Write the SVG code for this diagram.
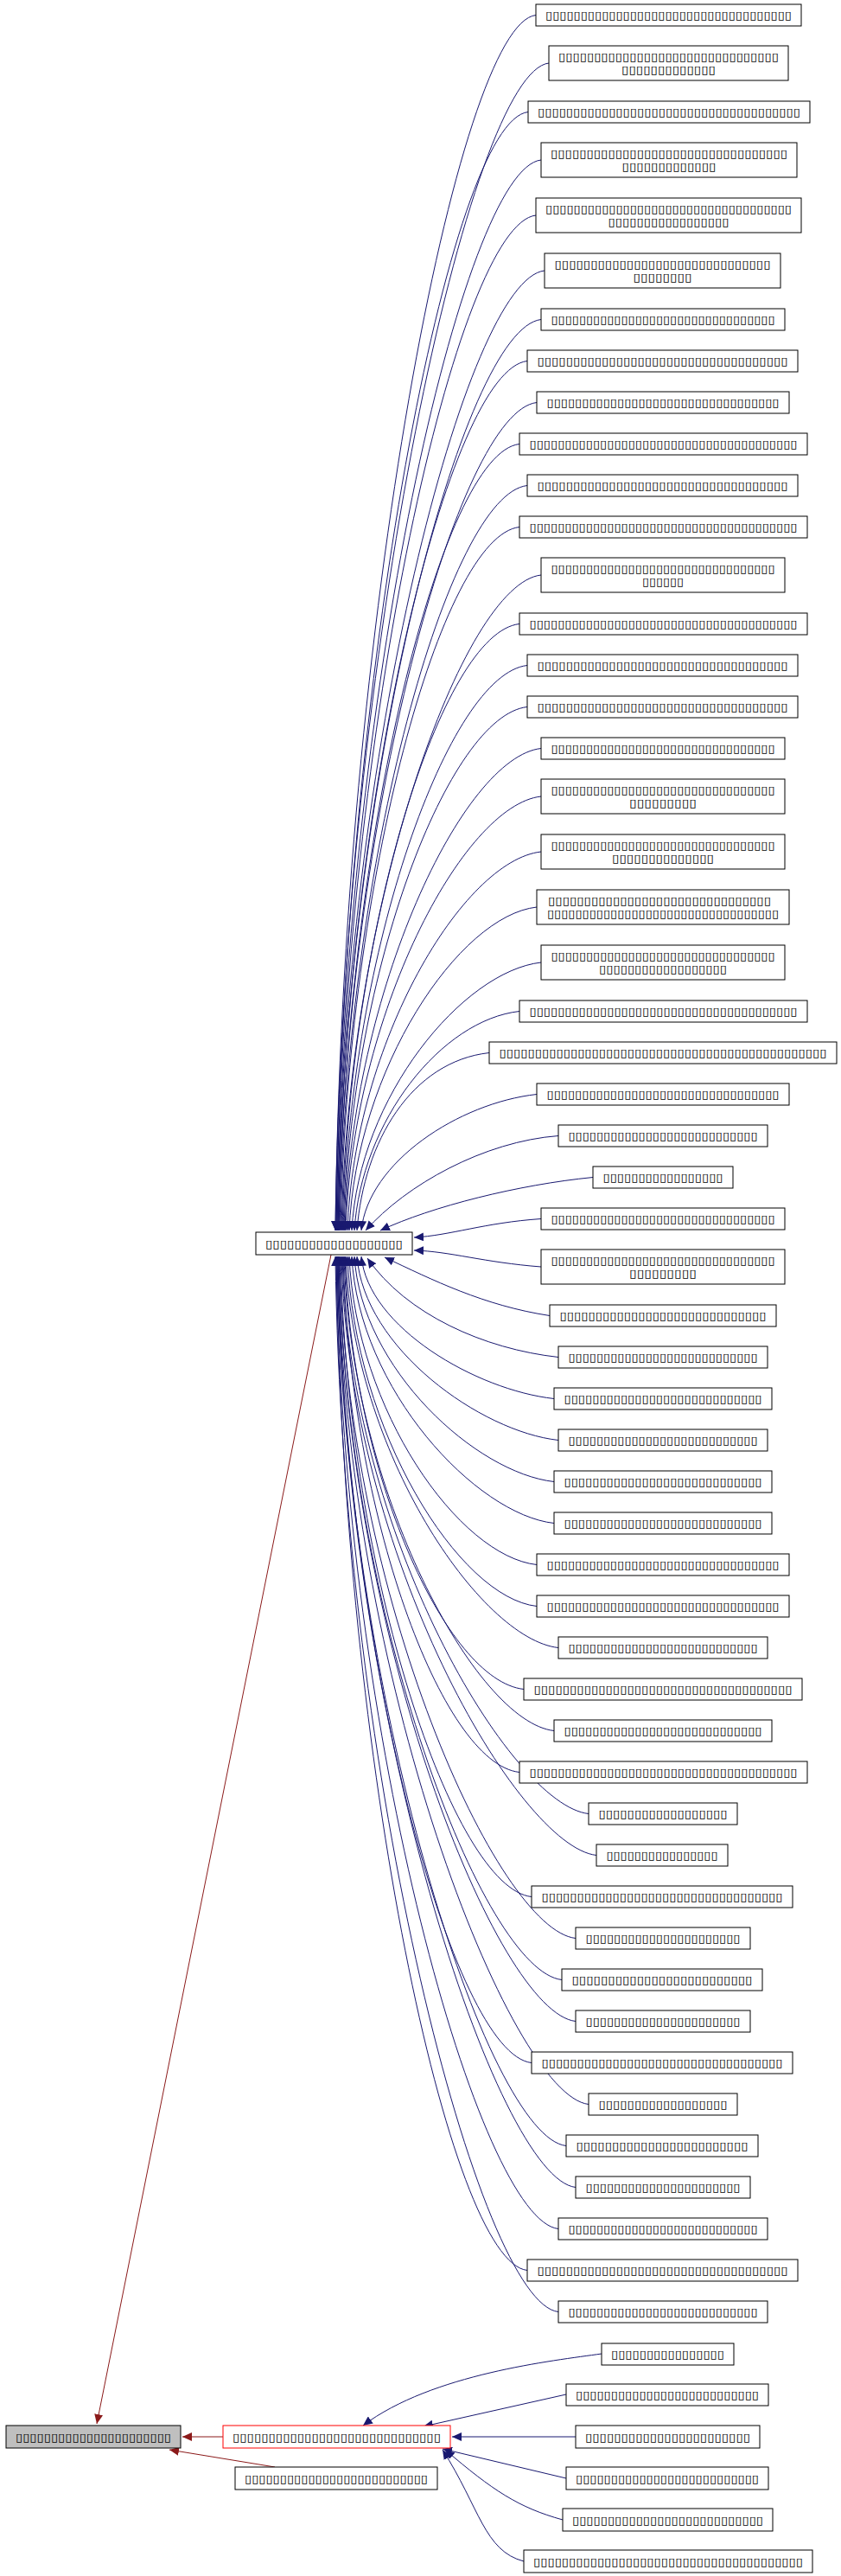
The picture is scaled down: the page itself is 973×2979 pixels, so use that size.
<svg xmlns="http://www.w3.org/2000/svg" width="973" height="2979" viewBox="0 0 973 2979">
<style>
.n rect{fill:#fff;stroke:#000;stroke-width:1}
text{font-family:"DejaVu Sans",sans-serif;font-size:13px;fill:#000;text-anchor:middle}
.e{fill:none;stroke:#191970;stroke-width:1;marker-end:url(#ab)}
.r{fill:none;stroke:#8b1a1a;stroke-width:1;marker-end:url(#ar)}
</style>
<defs>
<marker id="ab" markerUnits="userSpaceOnUse" markerWidth="12" markerHeight="10" refX="11" refY="5" orient="auto"><path d="M0,0 L11,5 L0,10 Z" fill="#191970"/></marker>
<marker id="ar" markerUnits="userSpaceOnUse" markerWidth="12" markerHeight="10" refX="11" refY="5" orient="auto"><path d="M0,0 L11,5 L0,10 Z" fill="#8b1a1a"/></marker>
</defs>
<rect width="973" height="2979" fill="#fff"/>
<g id="connectors">
<path class="e" d="M620,17.5 C530,27.5 396,720 388,1423"/>
<path class="e" d="M635,73 C545,83 396,748 388,1423"/>
<path class="e" d="M611,129.5 C521,139.5 397,776 389,1423"/>
<path class="e" d="M626,185 C536,195 397,804 389,1423"/>
<path class="e" d="M620,249 C530,259 398,836 390,1423"/>
<path class="e" d="M630,313 C540,323 398,868 390,1423"/>
<path class="e" d="M626,369.5 C536,379.5 399,896 391,1423"/>
<path class="e" d="M610,417.5 C520,427.5 399,920 391,1423"/>
<path class="e" d="M621,465.5 C531,475.5 400,944 392,1423"/>
<path class="e" d="M601,513.5 C511,523.5 400,968 392,1423"/>
<path class="e" d="M610,561.5 C520,571.5 401,992 393,1423"/>
<path class="e" d="M601,609.5 C511,619.5 402,1016 394,1423"/>
<path class="e" d="M626,665 C536,675 403,1044 395,1423"/>
<path class="e" d="M601,721.5 C511,731.5 404,1072 396,1423"/>
<path class="e" d="M610,769.5 C520,779.5 405,1096 397,1423"/>
<path class="e" d="M610,817.5 C520,827.5 406,1120 398,1423"/>
<path class="e" d="M626,865.5 C536,875.5 407,1144 399,1423"/>
<path class="e" d="M626,921 C536,931 408,1172 400,1423"/>
<path class="e" d="M626,985 C536,995 410,1204 402,1423"/>
<path class="e" d="M621,1049 C531,1059 412,1236 404,1423"/>
<path class="e" d="M626,1113 C536,1123 415,1268 407,1423"/>
<path class="e" d="M601,1169.5 C511,1179.5 418,1296 410,1423"/>
<path class="e" d="M566,1217.5 C476,1227.5 421,1320 413,1423"/>
<path class="e" d="M621,1265.5 C531,1275.5 426,1344 418,1423"/>
<path class="e" d="M646,1313.5 C560,1320 470,1370 423,1423"/>
<path class="e" d="M686,1361.5 C600,1370 500,1395 440,1423"/>
<path class="e" d="M626,1409.5 C560,1414 520,1429 479,1431"/>
<path class="e" d="M626,1465 C560,1460 520,1447 479,1446"/>
<path class="e" d="M636,1521.5 C560,1510 500,1480 445,1454"/>
<path class="e" d="M646,1569.5 C560,1560 470,1520 425,1455"/>
<path class="e" d="M641,1617.5 C551,1607.5 426,1535 418,1453"/>
<path class="e" d="M646,1665.5 C556,1655.5 421,1559 413,1453"/>
<path class="e" d="M641,1713.5 C551,1703.5 418,1583 410,1453"/>
<path class="e" d="M641,1761.5 C551,1751.5 415,1607 407,1453"/>
<path class="e" d="M621,1809.5 C531,1799.5 412,1631 404,1453"/>
<path class="e" d="M621,1857.5 C531,1847.5 410,1655 402,1453"/>
<path class="e" d="M646,1905.5 C556,1895.5 408,1679 400,1453"/>
<path class="e" d="M606,1953.5 C516,1943.5 407,1703 399,1453"/>
<path class="e" d="M641,2001.5 C551,1991.5 406,1727 398,1453"/>
<path class="e" d="M601,2049.5 C511,2039.5 405,1751 397,1453"/>
<path class="e" d="M681,2097.5 C591,2087.5 404,1775 396,1453"/>
<path class="e" d="M690,2145.5 C600,2135.5 403,1799 395,1453"/>
<path class="e" d="M615,2193.5 C525,2183.5 402,1823 394,1453"/>
<path class="e" d="M666,2241.5 C576,2231.5 401,1847 393,1453"/>
<path class="e" d="M650,2289.5 C560,2279.5 400,1871 392,1453"/>
<path class="e" d="M666,2337.5 C576,2327.5 400,1895 392,1453"/>
<path class="e" d="M615,2385.5 C525,2375.5 399,1919 391,1453"/>
<path class="e" d="M681,2433.5 C591,2423.5 399,1943 391,1453"/>
<path class="e" d="M655,2481.5 C565,2471.5 398,1967 390,1453"/>
<path class="e" d="M666,2529.5 C576,2519.5 398,1991 390,1453"/>
<path class="e" d="M646,2577.5 C556,2567.5 397,2015 389,1453"/>
<path class="e" d="M610,2625.5 C520,2615.5 397,2039 389,1453"/>
<path class="e" d="M646,2673.5 C556,2663.5 396,2063 388,1453"/>
<path class="e" d="M696,2722 C640,2730 500,2745 420,2805"/>
<path class="e" d="M655,2769 L490,2806"/>
<path class="e" d="M666,2818 L523,2818"/>
<path class="e" d="M655,2866 L512,2832"/>
<path class="e" d="M651,2914 C600,2900 570,2880 515,2833"/>
<path class="e" d="M606,2962 C560,2950 555,2900 512,2833"/>
<path class="r" d="M258,2818 L211,2818"/>
<path class="r" d="M318,2853 L196,2833"/>
<path class="r" d="M383,1451 L112,2803"/>
</g>
<g id="n1" class="n"><rect x="620" y="5" width="307" height="25"/><text x="773.5" y="22" textLength="285" lengthAdjust="spacingAndGlyphs">▯▯▯▯▯▯▯▯▯▯▯▯▯▯▯▯▯▯▯▯▯▯▯▯▯▯▯▯▯▯▯▯▯▯▯</text></g>
<g id="n2" class="n"><rect x="635" y="53" width="277" height="40"/><text x="773.5" y="70" textLength="255" lengthAdjust="spacingAndGlyphs">▯▯▯▯▯▯▯▯▯▯▯▯▯▯▯▯▯▯▯▯▯▯▯▯▯▯▯▯▯▯▯</text><text x="773.5" y="85" textLength="109" lengthAdjust="spacingAndGlyphs">▯▯▯▯▯▯▯▯▯▯▯▯▯</text></g>
<g id="n3" class="n"><rect x="611" y="117" width="326" height="25"/><text x="774" y="134" textLength="304" lengthAdjust="spacingAndGlyphs">▯▯▯▯▯▯▯▯▯▯▯▯▯▯▯▯▯▯▯▯▯▯▯▯▯▯▯▯▯▯▯▯▯▯▯▯▯</text></g>
<g id="n4" class="n"><rect x="626" y="165" width="296" height="40"/><text x="774" y="182" textLength="274" lengthAdjust="spacingAndGlyphs">▯▯▯▯▯▯▯▯▯▯▯▯▯▯▯▯▯▯▯▯▯▯▯▯▯▯▯▯▯▯▯▯▯</text><text x="774" y="197" textLength="109" lengthAdjust="spacingAndGlyphs">▯▯▯▯▯▯▯▯▯▯▯▯▯</text></g>
<g id="n5" class="n"><rect x="620" y="229" width="307" height="40"/><text x="773.5" y="246" textLength="285" lengthAdjust="spacingAndGlyphs">▯▯▯▯▯▯▯▯▯▯▯▯▯▯▯▯▯▯▯▯▯▯▯▯▯▯▯▯▯▯▯▯▯▯▯</text><text x="773.5" y="261" textLength="140" lengthAdjust="spacingAndGlyphs">▯▯▯▯▯▯▯▯▯▯▯▯▯▯▯▯▯</text></g>
<g id="n6" class="n"><rect x="630" y="293" width="273" height="40"/><text x="766.5" y="310" textLength="250" lengthAdjust="spacingAndGlyphs">▯▯▯▯▯▯▯▯▯▯▯▯▯▯▯▯▯▯▯▯▯▯▯▯▯▯▯▯▯▯</text><text x="766.5" y="325" textLength="68" lengthAdjust="spacingAndGlyphs">▯▯▯▯▯▯▯▯</text></g>
<g id="n7" class="n"><rect x="626" y="357" width="282" height="25"/><text x="767" y="374" textLength="259" lengthAdjust="spacingAndGlyphs">▯▯▯▯▯▯▯▯▯▯▯▯▯▯▯▯▯▯▯▯▯▯▯▯▯▯▯▯▯▯▯▯</text></g>
<g id="n8" class="n"><rect x="610" y="405" width="313" height="25"/><text x="766.5" y="422" textLength="290" lengthAdjust="spacingAndGlyphs">▯▯▯▯▯▯▯▯▯▯▯▯▯▯▯▯▯▯▯▯▯▯▯▯▯▯▯▯▯▯▯▯▯▯▯</text></g>
<g id="n9" class="n"><rect x="621" y="453" width="292" height="25"/><text x="767" y="470" textLength="269" lengthAdjust="spacingAndGlyphs">▯▯▯▯▯▯▯▯▯▯▯▯▯▯▯▯▯▯▯▯▯▯▯▯▯▯▯▯▯▯▯▯▯</text></g>
<g id="n10" class="n"><rect x="601" y="501" width="333" height="25"/><text x="767.5" y="518" textLength="310" lengthAdjust="spacingAndGlyphs">▯▯▯▯▯▯▯▯▯▯▯▯▯▯▯▯▯▯▯▯▯▯▯▯▯▯▯▯▯▯▯▯▯▯▯▯▯▯</text></g>
<g id="n11" class="n"><rect x="610" y="549" width="313" height="25"/><text x="766.5" y="566" textLength="290" lengthAdjust="spacingAndGlyphs">▯▯▯▯▯▯▯▯▯▯▯▯▯▯▯▯▯▯▯▯▯▯▯▯▯▯▯▯▯▯▯▯▯▯▯</text></g>
<g id="n12" class="n"><rect x="601" y="597" width="333" height="25"/><text x="767.5" y="614" textLength="310" lengthAdjust="spacingAndGlyphs">▯▯▯▯▯▯▯▯▯▯▯▯▯▯▯▯▯▯▯▯▯▯▯▯▯▯▯▯▯▯▯▯▯▯▯▯▯▯</text></g>
<g id="n13" class="n"><rect x="626" y="645" width="282" height="40"/><text x="767" y="662" textLength="259" lengthAdjust="spacingAndGlyphs">▯▯▯▯▯▯▯▯▯▯▯▯▯▯▯▯▯▯▯▯▯▯▯▯▯▯▯▯▯▯▯▯</text><text x="767" y="677" textLength="48" lengthAdjust="spacingAndGlyphs">▯▯▯▯▯▯</text></g>
<g id="n14" class="n"><rect x="601" y="709" width="333" height="25"/><text x="767.5" y="726" textLength="310" lengthAdjust="spacingAndGlyphs">▯▯▯▯▯▯▯▯▯▯▯▯▯▯▯▯▯▯▯▯▯▯▯▯▯▯▯▯▯▯▯▯▯▯▯▯▯▯</text></g>
<g id="n15" class="n"><rect x="610" y="757" width="313" height="25"/><text x="766.5" y="774" textLength="290" lengthAdjust="spacingAndGlyphs">▯▯▯▯▯▯▯▯▯▯▯▯▯▯▯▯▯▯▯▯▯▯▯▯▯▯▯▯▯▯▯▯▯▯▯</text></g>
<g id="n16" class="n"><rect x="610" y="805" width="313" height="25"/><text x="766.5" y="822" textLength="290" lengthAdjust="spacingAndGlyphs">▯▯▯▯▯▯▯▯▯▯▯▯▯▯▯▯▯▯▯▯▯▯▯▯▯▯▯▯▯▯▯▯▯▯▯</text></g>
<g id="n17" class="n"><rect x="626" y="853" width="282" height="25"/><text x="767" y="870" textLength="259" lengthAdjust="spacingAndGlyphs">▯▯▯▯▯▯▯▯▯▯▯▯▯▯▯▯▯▯▯▯▯▯▯▯▯▯▯▯▯▯▯▯</text></g>
<g id="n18" class="n"><rect x="626" y="901" width="282" height="40"/><text x="767" y="918" textLength="259" lengthAdjust="spacingAndGlyphs">▯▯▯▯▯▯▯▯▯▯▯▯▯▯▯▯▯▯▯▯▯▯▯▯▯▯▯▯▯▯▯▯</text><text x="767" y="933" textLength="78" lengthAdjust="spacingAndGlyphs">▯▯▯▯▯▯▯▯▯</text></g>
<g id="n19" class="n"><rect x="626" y="965" width="282" height="40"/><text x="767" y="982" textLength="259" lengthAdjust="spacingAndGlyphs">▯▯▯▯▯▯▯▯▯▯▯▯▯▯▯▯▯▯▯▯▯▯▯▯▯▯▯▯▯▯▯▯</text><text x="767" y="997" textLength="118" lengthAdjust="spacingAndGlyphs">▯▯▯▯▯▯▯▯▯▯▯▯▯▯</text></g>
<g id="n20" class="n"><rect x="621" y="1029" width="292" height="40"/><text x="763" y="1046" textLength="258" lengthAdjust="spacingAndGlyphs">▯▯▯▯▯▯▯▯▯▯▯▯▯▯▯▯▯▯▯▯▯▯▯▯▯▯▯▯▯▯▯</text><text x="767" y="1061" textLength="268" lengthAdjust="spacingAndGlyphs">▯▯▯▯▯▯▯▯▯▯▯▯▯▯▯▯▯▯▯▯▯▯▯▯▯▯▯▯▯▯▯▯▯</text></g>
<g id="n21" class="n"><rect x="626" y="1093" width="282" height="40"/><text x="767" y="1110" textLength="259" lengthAdjust="spacingAndGlyphs">▯▯▯▯▯▯▯▯▯▯▯▯▯▯▯▯▯▯▯▯▯▯▯▯▯▯▯▯▯▯▯▯</text><text x="767" y="1125" textLength="148" lengthAdjust="spacingAndGlyphs">▯▯▯▯▯▯▯▯▯▯▯▯▯▯▯▯▯▯</text></g>
<g id="n22" class="n"><rect x="601" y="1157" width="333" height="25"/><text x="767.5" y="1174" textLength="310" lengthAdjust="spacingAndGlyphs">▯▯▯▯▯▯▯▯▯▯▯▯▯▯▯▯▯▯▯▯▯▯▯▯▯▯▯▯▯▯▯▯▯▯▯▯▯▯</text></g>
<g id="n23" class="n"><rect x="566" y="1205" width="402" height="25"/><text x="767" y="1222" textLength="379" lengthAdjust="spacingAndGlyphs">▯▯▯▯▯▯▯▯▯▯▯▯▯▯▯▯▯▯▯▯▯▯▯▯▯▯▯▯▯▯▯▯▯▯▯▯▯▯▯▯▯▯▯▯▯▯</text></g>
<g id="n24" class="n"><rect x="621" y="1253" width="292" height="25"/><text x="767" y="1270" textLength="269" lengthAdjust="spacingAndGlyphs">▯▯▯▯▯▯▯▯▯▯▯▯▯▯▯▯▯▯▯▯▯▯▯▯▯▯▯▯▯▯▯▯▯</text></g>
<g id="n25" class="n"><rect x="646" y="1301" width="242" height="25"/><text x="767" y="1318" textLength="219" lengthAdjust="spacingAndGlyphs">▯▯▯▯▯▯▯▯▯▯▯▯▯▯▯▯▯▯▯▯▯▯▯▯▯▯▯</text></g>
<g id="n26" class="n"><rect x="686" y="1349" width="162" height="25"/><text x="767" y="1366" textLength="139" lengthAdjust="spacingAndGlyphs">▯▯▯▯▯▯▯▯▯▯▯▯▯▯▯▯▯</text></g>
<g id="n27" class="n"><rect x="626" y="1397" width="282" height="25"/><text x="767" y="1414" textLength="259" lengthAdjust="spacingAndGlyphs">▯▯▯▯▯▯▯▯▯▯▯▯▯▯▯▯▯▯▯▯▯▯▯▯▯▯▯▯▯▯▯▯</text></g>
<g id="n28" class="n"><rect x="626" y="1445" width="282" height="40"/><text x="767" y="1462" textLength="259" lengthAdjust="spacingAndGlyphs">▯▯▯▯▯▯▯▯▯▯▯▯▯▯▯▯▯▯▯▯▯▯▯▯▯▯▯▯▯▯▯▯</text><text x="767" y="1477" textLength="78" lengthAdjust="spacingAndGlyphs">▯▯▯▯▯▯▯▯▯</text></g>
<g id="n29" class="n"><rect x="636" y="1509" width="262" height="25"/><text x="767" y="1526" textLength="239" lengthAdjust="spacingAndGlyphs">▯▯▯▯▯▯▯▯▯▯▯▯▯▯▯▯▯▯▯▯▯▯▯▯▯▯▯▯▯</text></g>
<g id="n30" class="n"><rect x="646" y="1557" width="242" height="25"/><text x="767" y="1574" textLength="219" lengthAdjust="spacingAndGlyphs">▯▯▯▯▯▯▯▯▯▯▯▯▯▯▯▯▯▯▯▯▯▯▯▯▯▯▯</text></g>
<g id="n31" class="n"><rect x="641" y="1605" width="252" height="25"/><text x="767" y="1622" textLength="229" lengthAdjust="spacingAndGlyphs">▯▯▯▯▯▯▯▯▯▯▯▯▯▯▯▯▯▯▯▯▯▯▯▯▯▯▯▯</text></g>
<g id="n32" class="n"><rect x="646" y="1653" width="242" height="25"/><text x="767" y="1670" textLength="219" lengthAdjust="spacingAndGlyphs">▯▯▯▯▯▯▯▯▯▯▯▯▯▯▯▯▯▯▯▯▯▯▯▯▯▯▯</text></g>
<g id="n33" class="n"><rect x="641" y="1701" width="252" height="25"/><text x="767" y="1718" textLength="229" lengthAdjust="spacingAndGlyphs">▯▯▯▯▯▯▯▯▯▯▯▯▯▯▯▯▯▯▯▯▯▯▯▯▯▯▯▯</text></g>
<g id="n34" class="n"><rect x="641" y="1749" width="252" height="25"/><text x="767" y="1766" textLength="229" lengthAdjust="spacingAndGlyphs">▯▯▯▯▯▯▯▯▯▯▯▯▯▯▯▯▯▯▯▯▯▯▯▯▯▯▯▯</text></g>
<g id="n35" class="n"><rect x="621" y="1797" width="292" height="25"/><text x="767" y="1814" textLength="269" lengthAdjust="spacingAndGlyphs">▯▯▯▯▯▯▯▯▯▯▯▯▯▯▯▯▯▯▯▯▯▯▯▯▯▯▯▯▯▯▯▯▯</text></g>
<g id="n36" class="n"><rect x="621" y="1845" width="292" height="25"/><text x="767" y="1862" textLength="269" lengthAdjust="spacingAndGlyphs">▯▯▯▯▯▯▯▯▯▯▯▯▯▯▯▯▯▯▯▯▯▯▯▯▯▯▯▯▯▯▯▯▯</text></g>
<g id="n37" class="n"><rect x="646" y="1893" width="242" height="25"/><text x="767" y="1910" textLength="219" lengthAdjust="spacingAndGlyphs">▯▯▯▯▯▯▯▯▯▯▯▯▯▯▯▯▯▯▯▯▯▯▯▯▯▯▯</text></g>
<g id="n38" class="n"><rect x="606" y="1941" width="322" height="25"/><text x="767" y="1958" textLength="299" lengthAdjust="spacingAndGlyphs">▯▯▯▯▯▯▯▯▯▯▯▯▯▯▯▯▯▯▯▯▯▯▯▯▯▯▯▯▯▯▯▯▯▯▯▯</text></g>
<g id="n39" class="n"><rect x="641" y="1989" width="252" height="25"/><text x="767" y="2006" textLength="229" lengthAdjust="spacingAndGlyphs">▯▯▯▯▯▯▯▯▯▯▯▯▯▯▯▯▯▯▯▯▯▯▯▯▯▯▯▯</text></g>
<g id="n40" class="n"><rect x="601" y="2037" width="333" height="25"/><text x="767.5" y="2054" textLength="310" lengthAdjust="spacingAndGlyphs">▯▯▯▯▯▯▯▯▯▯▯▯▯▯▯▯▯▯▯▯▯▯▯▯▯▯▯▯▯▯▯▯▯▯▯▯▯▯</text></g>
<g id="n41" class="n"><rect x="681" y="2085" width="172" height="25"/><text x="767" y="2102" textLength="149" lengthAdjust="spacingAndGlyphs">▯▯▯▯▯▯▯▯▯▯▯▯▯▯▯▯▯▯</text></g>
<g id="n42" class="n"><rect x="690" y="2133" width="152" height="25"/><text x="766" y="2150" textLength="129" lengthAdjust="spacingAndGlyphs">▯▯▯▯▯▯▯▯▯▯▯▯▯▯▯▯</text></g>
<g id="n43" class="n"><rect x="615" y="2181" width="302" height="25"/><text x="766" y="2198" textLength="279" lengthAdjust="spacingAndGlyphs">▯▯▯▯▯▯▯▯▯▯▯▯▯▯▯▯▯▯▯▯▯▯▯▯▯▯▯▯▯▯▯▯▯▯</text></g>
<g id="n44" class="n"><rect x="666" y="2229" width="202" height="25"/><text x="767" y="2246" textLength="179" lengthAdjust="spacingAndGlyphs">▯▯▯▯▯▯▯▯▯▯▯▯▯▯▯▯▯▯▯▯▯▯</text></g>
<g id="n45" class="n"><rect x="650" y="2277" width="232" height="25"/><text x="766" y="2294" textLength="209" lengthAdjust="spacingAndGlyphs">▯▯▯▯▯▯▯▯▯▯▯▯▯▯▯▯▯▯▯▯▯▯▯▯▯</text></g>
<g id="n46" class="n"><rect x="666" y="2325" width="202" height="25"/><text x="767" y="2342" textLength="179" lengthAdjust="spacingAndGlyphs">▯▯▯▯▯▯▯▯▯▯▯▯▯▯▯▯▯▯▯▯▯▯</text></g>
<g id="n47" class="n"><rect x="615" y="2373" width="302" height="25"/><text x="766" y="2390" textLength="279" lengthAdjust="spacingAndGlyphs">▯▯▯▯▯▯▯▯▯▯▯▯▯▯▯▯▯▯▯▯▯▯▯▯▯▯▯▯▯▯▯▯▯▯</text></g>
<g id="n48" class="n"><rect x="681" y="2421" width="172" height="25"/><text x="767" y="2438" textLength="149" lengthAdjust="spacingAndGlyphs">▯▯▯▯▯▯▯▯▯▯▯▯▯▯▯▯▯▯</text></g>
<g id="n49" class="n"><rect x="655" y="2469" width="222" height="25"/><text x="766" y="2486" textLength="199" lengthAdjust="spacingAndGlyphs">▯▯▯▯▯▯▯▯▯▯▯▯▯▯▯▯▯▯▯▯▯▯▯▯</text></g>
<g id="n50" class="n"><rect x="666" y="2517" width="202" height="25"/><text x="767" y="2534" textLength="179" lengthAdjust="spacingAndGlyphs">▯▯▯▯▯▯▯▯▯▯▯▯▯▯▯▯▯▯▯▯▯▯</text></g>
<g id="n51" class="n"><rect x="646" y="2565" width="242" height="25"/><text x="767" y="2582" textLength="219" lengthAdjust="spacingAndGlyphs">▯▯▯▯▯▯▯▯▯▯▯▯▯▯▯▯▯▯▯▯▯▯▯▯▯▯▯</text></g>
<g id="n52" class="n"><rect x="610" y="2613" width="313" height="25"/><text x="766.5" y="2630" textLength="290" lengthAdjust="spacingAndGlyphs">▯▯▯▯▯▯▯▯▯▯▯▯▯▯▯▯▯▯▯▯▯▯▯▯▯▯▯▯▯▯▯▯▯▯▯</text></g>
<g id="n53" class="n"><rect x="646" y="2661" width="242" height="25"/><text x="767" y="2678" textLength="219" lengthAdjust="spacingAndGlyphs">▯▯▯▯▯▯▯▯▯▯▯▯▯▯▯▯▯▯▯▯▯▯▯▯▯▯▯</text></g>
<g id="n54" class="n"><rect x="696" y="2710" width="153" height="25"/><text x="772.5" y="2727" textLength="131" lengthAdjust="spacingAndGlyphs">▯▯▯▯▯▯▯▯▯▯▯▯▯▯▯▯</text></g>
<g id="n55" class="n"><rect x="655" y="2757" width="234" height="25"/><text x="772" y="2774" textLength="212" lengthAdjust="spacingAndGlyphs">▯▯▯▯▯▯▯▯▯▯▯▯▯▯▯▯▯▯▯▯▯▯▯▯▯▯</text></g>
<g id="n56" class="n"><rect x="666" y="2805" width="213" height="26"/><text x="772.5" y="2823" textLength="191" lengthAdjust="spacingAndGlyphs">▯▯▯▯▯▯▯▯▯▯▯▯▯▯▯▯▯▯▯▯▯▯▯</text></g>
<g id="n57" class="n"><rect x="655" y="2853" width="234" height="26"/><text x="772" y="2871" textLength="212" lengthAdjust="spacingAndGlyphs">▯▯▯▯▯▯▯▯▯▯▯▯▯▯▯▯▯▯▯▯▯▯▯▯▯▯</text></g>
<g id="n58" class="n"><rect x="651" y="2901" width="243" height="26"/><text x="772.5" y="2919" textLength="221" lengthAdjust="spacingAndGlyphs">▯▯▯▯▯▯▯▯▯▯▯▯▯▯▯▯▯▯▯▯▯▯▯▯▯▯▯</text></g>
<g id="n59" class="n"><rect x="606" y="2949" width="334" height="26"/><text x="773" y="2967" textLength="312" lengthAdjust="spacingAndGlyphs">▯▯▯▯▯▯▯▯▯▯▯▯▯▯▯▯▯▯▯▯▯▯▯▯▯▯▯▯▯▯▯▯▯▯▯▯▯▯</text></g>
<g id="central" class="n"><rect x="296" y="1425" width="181" height="26"/><text x="386.5" y="1443" textLength="159" lengthAdjust="spacingAndGlyphs">▯▯▯▯▯▯▯▯▯▯▯▯▯▯▯▯▯▯▯</text></g>
<g id="focus"><rect x="7" y="2805" width="202" height="26" fill="#bfbfbf" stroke="#000"/><text x="108" y="2823" textLength="180" lengthAdjust="spacingAndGlyphs">▯▯▯▯▯▯▯▯▯▯▯▯▯▯▯▯▯▯▯▯▯▯</text></g>
<g id="rednode"><rect x="258" y="2805" width="263" height="26" fill="#fff" stroke="#ff0000"/><text x="389.5" y="2823" textLength="241" lengthAdjust="spacingAndGlyphs">▯▯▯▯▯▯▯▯▯▯▯▯▯▯▯▯▯▯▯▯▯▯▯▯▯▯▯▯▯</text></g>
<g id="bottomnode" class="n"><rect x="272" y="2853" width="234" height="26"/><text x="389" y="2871" textLength="212" lengthAdjust="spacingAndGlyphs">▯▯▯▯▯▯▯▯▯▯▯▯▯▯▯▯▯▯▯▯▯▯▯▯▯▯</text></g>
</svg>
